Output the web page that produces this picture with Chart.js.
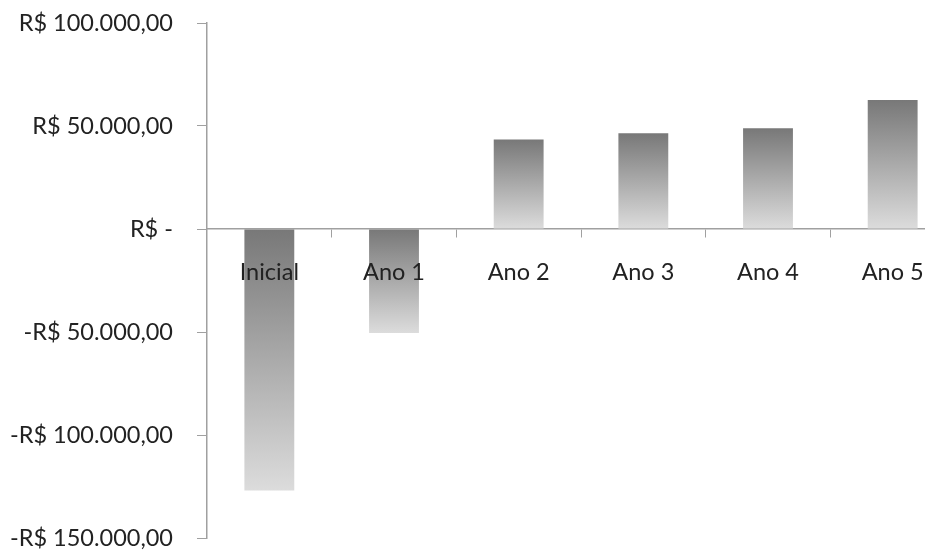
<!DOCTYPE html>
<html>
<head>
<meta charset="utf-8">
<script src="https://cdn.jsdelivr.net/npm/chart.js@4"></script>
<style>
html, body { margin: 0; padding: 0; background: #fff; overflow: hidden; }
#wrap { width: 960px; height: 556px; }
</style>
</head>
<body>
<div id="wrap"><canvas id="myChart" width="960" height="556"></canvas></div>
<script>
var categories = ['Inicial', 'Ano 1', 'Ano 2', 'Ano 3', 'Ano 4', 'Ano 5'];
var values = [-127000, -50500, 43500, 46500, 48900, 62600];
var yTicks = [100000, 50000, 0, -50000, -100000, -150000];

function fmt(v) {
    if (v == 0) return 'R$ -';
    var s = Math.abs(v).toString().replace(/\B(?=(\d{3})+(?!\d))/g, '.') + ',00';
    return (v < 0 ? '-' : '') + 'R$ ' + s;
}

function barFill(ctx) {
    var chart = ctx.chart;
    var y = chart.scales.y;
    if (!y || ctx.raw == undefined) return '#aaa';
    var p0 = y.getPixelForValue(0);
    var p1 = y.getPixelForValue(ctx.raw);
    if (!isFinite(p0) || !isFinite(p1)) return '#aaa';
    var top = Math.min(p0, p1), bot = Math.max(p0, p1);
    if (bot - top < 1) bot = top + 1;
    var g = chart.ctx.createLinearGradient(0, top, 0, bot);
    g.addColorStop(0, '#787878');
    g.addColorStop(1, '#dcdcdc');
    return g;
}

var font = { family: 'Lato', size: 23.5 };
var ctx = document.getElementById('myChart').getContext('2d');
var myChart = new Chart(ctx, {
    type: 'bar',
    data: {
        labels: categories,
        datasets: [{
            data: values,
            backgroundColor: barFill,
            borderWidth: 0,
            barPercentage: 0.4,
            categoryPercentage: 1
        }]
    },
    options: {
        responsive: false,
        animation: false,
        layout: { padding: { left: 0, right: 5, top: 23, bottom: 18 } },
        plugins: { legend: { display: false }, tooltip: { enabled: false } },
        scales: {
            x: {
                position: { y: 0 },
                afterFit: function (s) { s.height = 0; s.paddingLeft = 0; s.paddingRight = 0; },
                grid: { offset: true, drawOnChartArea: false, drawTicks: true, tickLength: 8, color: '#a0a0a0' },
                border: { color: '#a0a0a0', width: 1.5 },
                ticks: { color: '#222', font: font, padding: 21, z: 1 }
            },
            y: {
                min: -150000,
                max: 100000,
                afterBuildTicks: function (s) { s.ticks = yTicks.map(function (v) { return { value: v }; }); },
                afterFit: function (s) { s.width = 207; s.paddingTop = 0; s.paddingBottom = 0; },
                grid: { drawOnChartArea: false, tickLength: 10, color: '#a0a0a0' },
                border: { color: '#a0a0a0', width: 1.5 },
                ticks: { color: '#222', font: font, padding: 24, callback: function (v) { return fmt(v); } }
            }
        }
    }
});
myChart.update();
</script>
</body>
</html>
